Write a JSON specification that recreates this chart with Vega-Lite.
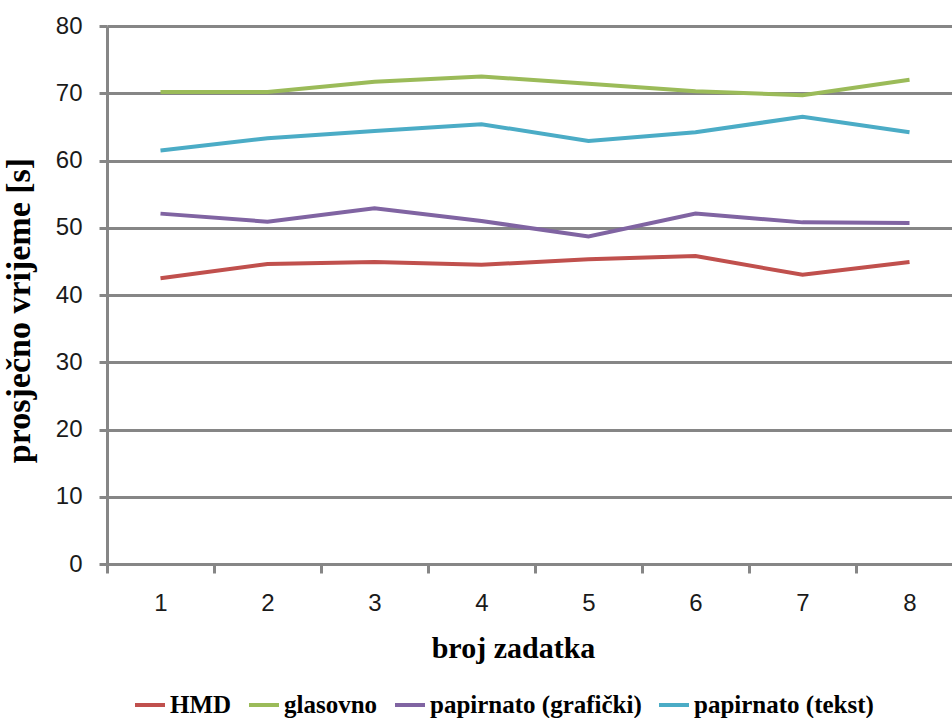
{
  "$schema": "https://vega.github.io/schema/vega-lite/v6.json",
  "autosize": "none",
  "padding": {"left": 107, "top": 26, "right": 0, "bottom": 154},
  "width": 845,
  "height": 538,
  "background": "white",
  "config": {"view": {"stroke": null}},
  "data": {
    "values": [
      {"zadatak": 1, "metoda": "HMD", "vrijeme": 42.5},
      {"zadatak": 2, "metoda": "HMD", "vrijeme": 44.6},
      {"zadatak": 3, "metoda": "HMD", "vrijeme": 44.9},
      {"zadatak": 4, "metoda": "HMD", "vrijeme": 44.5},
      {"zadatak": 5, "metoda": "HMD", "vrijeme": 45.3},
      {"zadatak": 6, "metoda": "HMD", "vrijeme": 45.8},
      {"zadatak": 7, "metoda": "HMD", "vrijeme": 43.0},
      {"zadatak": 8, "metoda": "HMD", "vrijeme": 44.9},
      {"zadatak": 1, "metoda": "glasovno", "vrijeme": 70.2},
      {"zadatak": 2, "metoda": "glasovno", "vrijeme": 70.2},
      {"zadatak": 3, "metoda": "glasovno", "vrijeme": 71.7},
      {"zadatak": 4, "metoda": "glasovno", "vrijeme": 72.5},
      {"zadatak": 5, "metoda": "glasovno", "vrijeme": 71.4},
      {"zadatak": 6, "metoda": "glasovno", "vrijeme": 70.3},
      {"zadatak": 7, "metoda": "glasovno", "vrijeme": 69.7},
      {"zadatak": 8, "metoda": "glasovno", "vrijeme": 72.0},
      {"zadatak": 1, "metoda": "papirnato (grafički)", "vrijeme": 52.1},
      {"zadatak": 2, "metoda": "papirnato (grafički)", "vrijeme": 50.9},
      {"zadatak": 3, "metoda": "papirnato (grafički)", "vrijeme": 52.9},
      {"zadatak": 4, "metoda": "papirnato (grafički)", "vrijeme": 51.0},
      {"zadatak": 5, "metoda": "papirnato (grafički)", "vrijeme": 48.7},
      {"zadatak": 6, "metoda": "papirnato (grafički)", "vrijeme": 52.1},
      {"zadatak": 7, "metoda": "papirnato (grafički)", "vrijeme": 50.8},
      {"zadatak": 8, "metoda": "papirnato (grafički)", "vrijeme": 50.7},
      {"zadatak": 1, "metoda": "papirnato (tekst)", "vrijeme": 61.5},
      {"zadatak": 2, "metoda": "papirnato (tekst)", "vrijeme": 63.3},
      {"zadatak": 3, "metoda": "papirnato (tekst)", "vrijeme": 64.4},
      {"zadatak": 4, "metoda": "papirnato (tekst)", "vrijeme": 65.4},
      {"zadatak": 5, "metoda": "papirnato (tekst)", "vrijeme": 62.9},
      {"zadatak": 6, "metoda": "papirnato (tekst)", "vrijeme": 64.2},
      {"zadatak": 7, "metoda": "papirnato (tekst)", "vrijeme": 66.5},
      {"zadatak": 8, "metoda": "papirnato (tekst)", "vrijeme": 64.2}
    ]
  },
  "mark": {"type": "line", "strokeWidth": 4, "strokeJoin": "miter"},
  "encoding": {
    "x": {
      "field": "zadatak",
      "type": "quantitative",
      "scale": {"domain": [0.5, 8.397], "nice": false, "zero": false},
      "axis": {
        "title": "broj zadatka",
        "values": [0.5, 1, 1.5, 2, 2.5, 3, 3.5, 4, 4.5, 5, 5.5, 6, 6.5, 7, 7.5, 8],
        "labelExpr": "datum.value % 1 == 0 ? format(datum.value, 'd') : ''",
        "tickOpacity": {"condition": {"test": "datum.value % 1 == 0", "value": 0}, "value": 1},
        "grid": false,
        "domainColor": "#868686",
        "domainWidth": 3,
        "tickColor": "#868686",
        "tickWidth": 3,
        "tickSize": 9,
        "labelFont": "Liberation Sans",
        "labelFontSize": 24,
        "labelColor": "#1a1a1a",
        "labelPadding": 18,
        "labelFlush": false,
        "labelOverlap": false,
        "titleFont": "Liberation Serif",
        "titleFontWeight": "bold",
        "titleFontSize": 30,
        "titleColor": "#000000",
        "titleX": 406,
        "titleY": 93,
        "titleAlign": "center",
        "titleBaseline": "alphabetic"
      }
    },
    "y": {
      "field": "vrijeme",
      "type": "quantitative",
      "scale": {"domain": [0, 80], "nice": false},
      "axis": {
        "title": "prosječno vrijeme [s]",
        "values": [0, 10, 20, 30, 40, 50, 60, 70, 80],
        "grid": true,
        "gridColor": "#868686",
        "gridWidth": 3,
        "domainColor": "#868686",
        "domainWidth": 3,
        "tickColor": "#868686",
        "tickWidth": 3,
        "tickSize": 8,
        "labelFont": "Liberation Sans",
        "labelFontSize": 24,
        "labelColor": "#1a1a1a",
        "labelPadding": 17,
        "labelFlush": false,
        "titleFont": "Liberation Serif",
        "titleFontWeight": "bold",
        "titleFontSize": 34,
        "titleColor": "#000000",
        "titleAngle": -90,
        "titleX": -88,
        "titleY": 284,
        "titleAlign": "center",
        "titleBaseline": "middle"
      }
    },
    "color": {
      "field": "metoda",
      "type": "nominal",
      "scale": {
        "domain": ["HMD", "glasovno", "papirnato (grafički)", "papirnato (tekst)"],
        "range": ["#C0504D", "#9BBB59", "#8064A2", "#4BACC6"]
      },
      "legend": {
        "title": null,
        "orient": "none",
        "direction": "horizontal",
        "legendX": 26,
        "legendY": 662,
        "symbolType": "stroke",
        "symbolSize": 900,
        "symbolStrokeWidth": 4,
        "labelFont": "Liberation Serif",
        "labelFontWeight": "bold",
        "labelFontSize": 25,
        "labelColor": "#000000",
        "labelLimit": 0,
        "labelOffset": 3,
        "columnPadding": 9
      }
    }
  }
}
